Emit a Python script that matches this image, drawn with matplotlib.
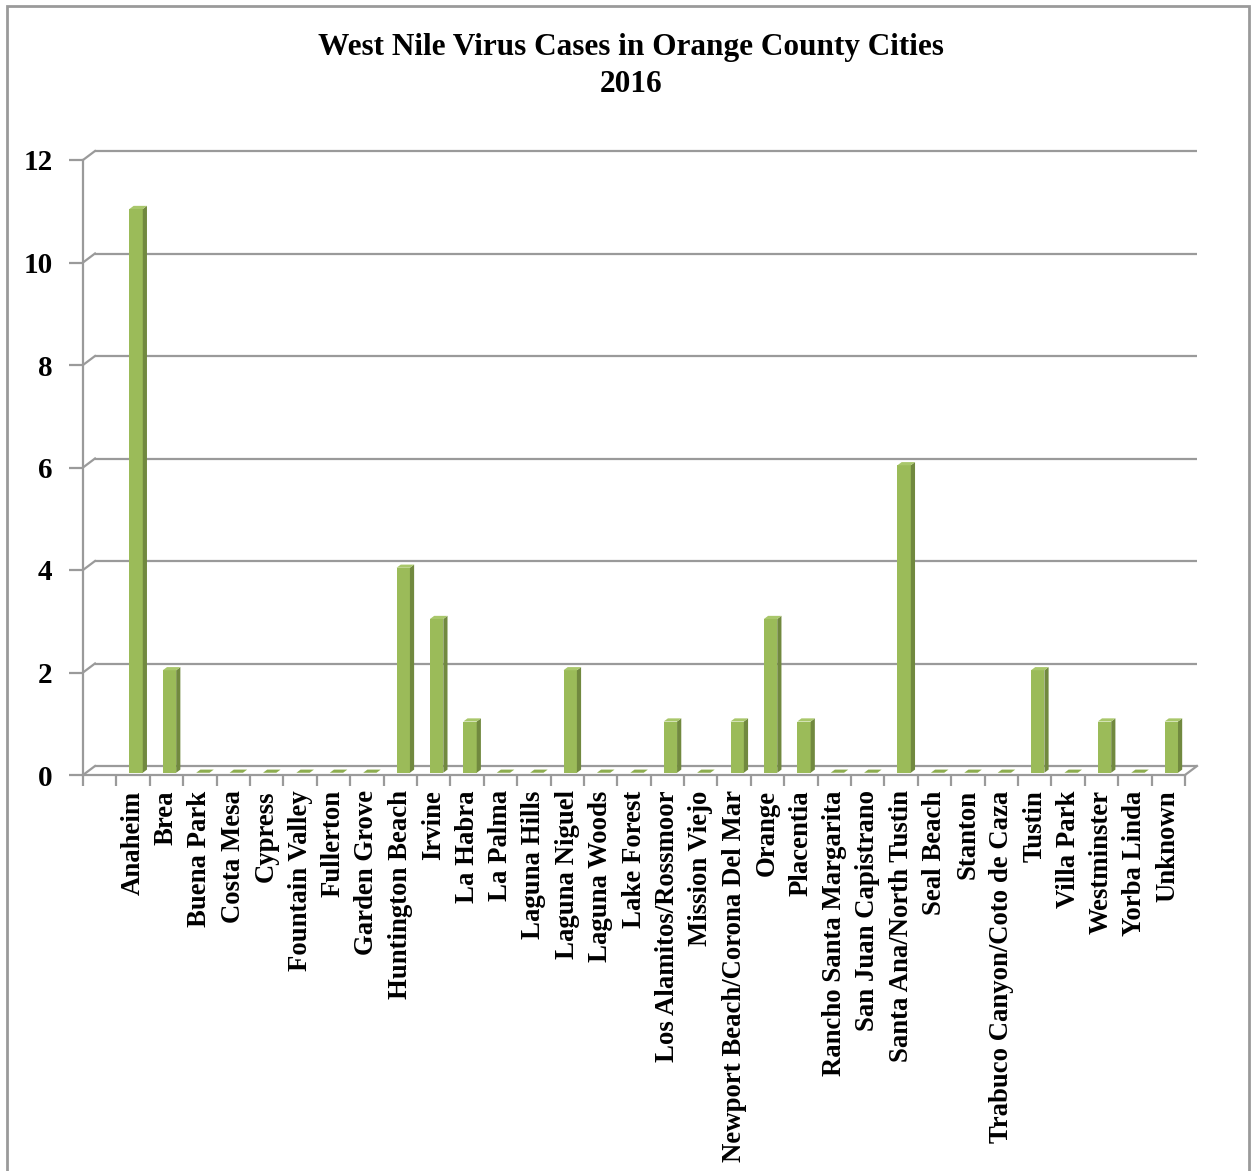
import numpy as np
import matplotlib
matplotlib.use("Agg")
import matplotlib.pyplot as plt
from matplotlib.patches import Polygon, Rectangle

plt.rcParams['font.family'] = ['Liberation Serif', 'DejaVu Serif']
plt.rcParams['font.weight'] = 'bold'

# ---- data ----
cities = ["Anaheim", "Brea", "Buena Park", "Costa Mesa", "Cypress", "Fountain Valley",
          "Fullerton", "Garden Grove", "Huntington Beach", "Irvine", "La Habra", "La Palma",
          "Laguna Hills", "Laguna Niguel", "Laguna Woods", "Lake Forest",
          "Los Alamitos/Rossmoor", "Mission Viejo", "Newport Beach/Corona Del Mar", "Orange",
          "Placentia", "Rancho Santa Margarita", "San Juan Capistrano", "Santa Ana/North Tustin",
          "Seal Beach", "Stanton", "Trabuco Canyon/Coto de Caza", "Tustin", "Villa Park",
          "Westminster", "Yorba Linda", "Unknown"]
cases = [11, 2, 0, 0, 0, 0, 0, 0, 4, 3, 1, 0, 0, 2, 0, 0, 1, 0, 1, 3, 1, 0, 0, 6,
         0, 0, 0, 2, 0, 1, 0, 1]
yticks = [0, 2, 4, 6, 8, 10, 12]
title = "West Nile Virus Cases in Orange County Cities\n2016"

W, H = 1252, 1171
fig = plt.figure(figsize=(W / 100, H / 100), dpi=100)
fig.patch.set_facecolor('white')

x0, x1, y0, y1 = 83, 1185, 775, 160
ax = fig.add_axes([x0 / W, 1 - y0 / H, (x1 - x0) / W, (y0 - y1) / H])
nslots = len(cities) + 1
ax.set_xlim(0, nslots)
ax.set_ylim(0, 12)
ax.set_facecolor('none')

pxx = (x1 - x0) / nslots
pxy = (y0 - y1) / 12.0
DX = 12 / pxx   # depth offset in data units (full depth)
DY = 9 / pxy

grid_c = '#9a9a9a'
lw = 1.6

# back-wall gridlines with perspective diagonals
for v in yticks:
    ax.plot([DX, nslots + DX], [v + DY, v + DY], color=grid_c, lw=lw, zorder=1,
            clip_on=False, solid_capstyle='butt')
    ax.plot([0, DX], [v, v + DY], color=grid_c, lw=lw, zorder=1, clip_on=False)
# floor right edge
ax.plot([nslots, nslots + DX], [0, DY], color=grid_c, lw=lw, zorder=1, clip_on=False)

# spines / ticks
for s in ['top', 'right']:
    ax.spines[s].set_visible(False)
for s in ['left', 'bottom']:
    ax.spines[s].set_color(grid_c)
    ax.spines[s].set_linewidth(lw)
    ax.spines[s].set_zorder(2)

ax.set_yticks(yticks)
ax.set_yticklabels([str(v) for v in yticks], fontsize=21, fontweight='bold')
ax.tick_params(axis='y', length=10, width=lw, color=grid_c, pad=12)

ax.set_xticks(np.arange(0, nslots + 1))
ax.set_xticklabels([])
ax.tick_params(axis='x', which='major', length=8, width=lw, color=grid_c)
centers = np.arange(len(cities)) + 1.5
ax.set_xticks(centers, minor=True)
ax.set_xticklabels(cities, minor=True, rotation=90, fontsize=19.3, fontweight='bold',
                   va='top', ha='center')
ax.tick_params(axis='x', which='minor', length=0, pad=11)

# pseudo-3D bars
d_front, d_back = 0.25, 0.6
bw = 0.4
front_c, side_c, top_c = '#9BBB59', '#71893F', '#A9C76B'
fx = centers + d_front * DX
fy = d_front * DY
ddx = (d_back - d_front) * DX
ddy = (d_back - d_front) * DY
ax.bar(fx, cases, width=bw, bottom=fy, color=front_c, zorder=3, linewidth=0)
for xc, v in zip(fx, cases):
    xl, xr = xc - bw / 2, xc + bw / 2
    if v > 0:
        side = Polygon([(xr, fy), (xr, v + fy), (xr + ddx, v + fy + ddy), (xr + ddx, fy + ddy)],
                       closed=True, facecolor=side_c, edgecolor='none', zorder=3, clip_on=False)
        ax.add_patch(side)
        tc = top_c
    else:
        tc = '#8DAD4F'
    top = Polygon([(xl, v + fy), (xr, v + fy), (xr + ddx, v + fy + ddy), (xl + ddx, v + fy + ddy)],
                  closed=True, facecolor=tc, edgecolor='none', zorder=3, clip_on=False)
    ax.add_patch(top)

# title
fig.text(631 / W, 1 - 33 / H, title, ha='center', va='top', fontsize=22.5,
         fontweight='bold', linespacing=1.35)

# outer border
fig.patches.append(Rectangle((7 / W, -0.01), (1249 - 7) / W, 1 + 0.01 - 6 / H,
                             transform=fig.transFigure, fill=False,
                             edgecolor='#9a9a9a', linewidth=2))

fig.savefig('out.png', dpi=100)
